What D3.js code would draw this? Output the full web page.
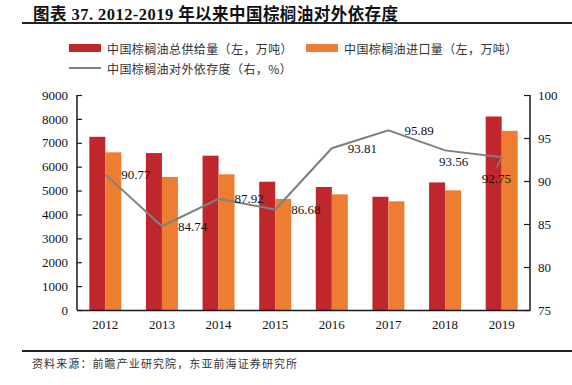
<!DOCTYPE html>
<html>
<head>
<meta charset="utf-8">
<script src="https://cdn.jsdelivr.net/npm/d3@7"></script>
<style>
  html, body { margin: 0; padding: 0; background: #fff; }
  svg { display: block; }
</style>
</head>
<body>
<svg id="chart" width="572" height="385"></svg>
<script>
// ---- data ----
const years = ["2012", "2013", "2014", "2015", "2016", "2017", "2018", "2019"];
const totalSupply = [7250, 6570, 6460, 5370, 5150, 4740, 5340, 8100]; // 万吨
const imports = [6600, 5570, 5680, 4650, 4840, 4550, 5010, 7500];     // 万吨
const dependence = [90.77, 84.74, 87.92, 86.68, 93.81, 95.89, 93.56, 92.75]; // %
const leftTicks = [0, 1000, 2000, 3000, 4000, 5000, 6000, 7000, 8000, 9000];
const rightTicks = [75, 80, 85, 90, 95, 100];

// label placement (style, not data)
const labelOffsets = [[16,0],[16,0],[16,0],[16,0],[16,0],[16,0],[-6,11],[-20,21]];

const svg = d3.select("#chart");
const serif = "'Liberation Serif', 'Times New Roman', serif";
const cjk = "'Noto Sans CJK SC', sans-serif";
const RED = "#C0272D", ORANGE = "#ED7D31", GRAY = "#808080", AXIS = "#1a1a1a";

const x0 = 77, x1 = 530, yTop = 95, yBot = 310;
const x = d3.scaleBand().domain(years).range([x0, x1]);
const yL = d3.scaleLinear().domain([0, 9000]).range([yBot, yTop]);
const yR = d3.scaleLinear().domain([75, 100]).range([yBot, yTop]);
const barW = 16;

// title
const title = svg.append("text").attr("x", 33).attr("y", 20)
  .attr("font-size", 16.5).attr("font-weight", "bold").attr("fill", "#111")
  .attr("letter-spacing", 0.45);
title.append("tspan").attr("font-family", cjk).text("图表");
title.append("tspan").attr("font-family", serif).text(" 37. 2012-2019 ");
title.append("tspan").attr("font-family", cjk).text("年以来中国棕榈油对外依存度");
svg.append("line").attr("x1", 22).attr("x2", 572).attr("y1", 23).attr("y2", 23)
  .attr("stroke", "#222").attr("stroke-width", 2);

// legend
const lg = svg.append("g").attr("font-family", cjk).attr("font-size", 12)
  .attr("fill", "#333").attr("letter-spacing", 0.4);
lg.append("rect").attr("x", 69).attr("y", 44).attr("width", 32).attr("height", 8).attr("fill", RED);
lg.append("text").attr("x", 107).attr("y", 48).attr("dominant-baseline", "central").text("中国棕榈油总供给量（左，万吨）");
lg.append("rect").attr("x", 306).attr("y", 44).attr("width", 32).attr("height", 8).attr("fill", ORANGE);
lg.append("text").attr("x", 344).attr("y", 48).attr("dominant-baseline", "central").text("中国棕榈油进口量（左，万吨）");
lg.append("line").attr("x1", 69).attr("x2", 101).attr("y1", 68).attr("y2", 68).attr("stroke", GRAY).attr("stroke-width", 2);
lg.append("text").attr("x", 107).attr("y", 68).attr("dominant-baseline", "central").text("中国棕榈油对外依存度（右，%）");

// bars
const cx = d => x(d) + x.bandwidth() / 2;
svg.append("g").selectAll("rect").data(years).join("rect")
  .attr("x", d => cx(d) - barW).attr("width", barW)
  .attr("y", (d, i) => yL(totalSupply[i])).attr("height", (d, i) => yBot - yL(totalSupply[i]))
  .attr("fill", RED);
svg.append("g").selectAll("rect").data(years).join("rect")
  .attr("x", d => cx(d)).attr("width", barW)
  .attr("y", (d, i) => yL(imports[i])).attr("height", (d, i) => yBot - yL(imports[i]))
  .attr("fill", ORANGE);

// line
const line = d3.line().x((d, i) => cx(years[i])).y(d => yR(d));
svg.append("path").datum(dependence).attr("d", line)
  .attr("fill", "none").attr("stroke", GRAY).attr("stroke-width", 2);

// leader line for last label
{
  const i = 7, px = cx(years[i]), py = yR(dependence[i]);
  svg.append("line").attr("x1", px).attr("y1", py).attr("x2", px - 5).attr("y2", py + 10)
    .attr("stroke", GRAY).attr("stroke-width", 1.5);
}

// data labels
svg.append("g").selectAll("text").data(dependence).join("text")
  .attr("x", (d, i) => cx(years[i]) + labelOffsets[i][0])
  .attr("y", (d, i) => yR(d) + labelOffsets[i][1])
  .attr("dominant-baseline", "central")
  .attr("font-family", serif).attr("font-size", 13).attr("fill", "#111")
  .text(d => d.toFixed(2));

// axes
const axL = svg.append("g").attr("transform", `translate(${x0},0)`)
  .call(d3.axisRight(yL).tickValues(leftTicks).tickSize(5).tickFormat(d3.format("d")));
axL.selectAll("text").attr("x", -9).attr("text-anchor", "end");
const axR = svg.append("g").attr("transform", `translate(${x1},0)`)
  .call(d3.axisLeft(yR).tickValues(rightTicks).tickSize(6).tickFormat(d3.format("d")));
axR.selectAll("text").attr("x", 8).attr("text-anchor", "start");
const axB = svg.append("g").attr("transform", `translate(0,${yBot})`)
  .call(d3.axisBottom(x).tickSize(0).tickPadding(10));
[axL, axR, axB].forEach(a => {
  a.select(".domain").attr("stroke", AXIS).attr("stroke-width", 1.5);
  a.selectAll(".tick line").attr("stroke", AXIS).attr("stroke-width", 1.2);
  a.selectAll("text").attr("font-family", serif).attr("font-size", 13).attr("fill", "#111");
});
axL.select(".domain").attr("d", `M0,${yTop}V${yBot}`);
axR.select(".domain").attr("d", `M0,${yTop}V${yBot}`);

// source
svg.append("line").attr("x1", 22).attr("x2", 572).attr("y1", 351).attr("y2", 351)
  .attr("stroke", "#222").attr("stroke-width", 2);
svg.append("text").attr("x", 32).attr("y", 363).attr("dominant-baseline", "central")
  .attr("font-family", cjk).attr("font-size", 11).attr("letter-spacing", 1.1).attr("fill", "#333")
  .text("资料来源：前瞻产业研究院，东亚前海证券研究所");
</script>
</body>
</html>
